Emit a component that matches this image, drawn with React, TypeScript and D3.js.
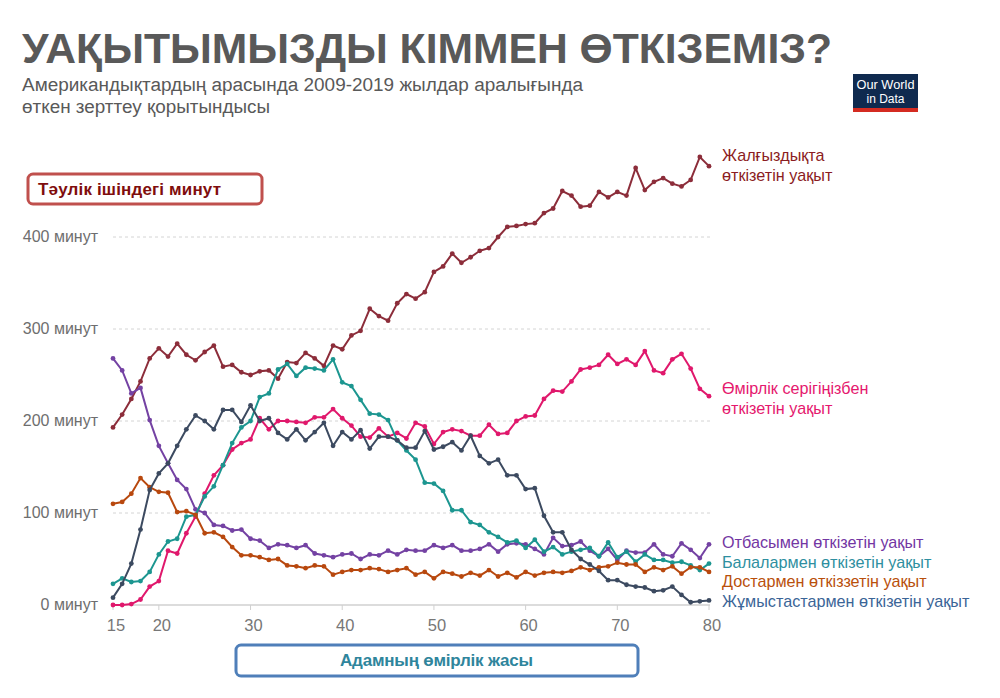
import React from "react";
import * as d3 from "d3";

const WIDTH = 1000;
const HEIGHT = 698;
const FONT = "'Liberation Sans', Arial, sans-serif";

// age in years, one point per year
const AGES = [
  15, 16, 17, 18, 19, 20, 21, 22, 23, 24, 25, 26, 27, 28, 29, 30, 31, 32, 33, 34, 35, 36,
  37, 38, 39, 40, 41, 42, 43, 44, 45, 46, 47, 48, 49, 50, 51, 52, 53, 54, 55, 56, 57, 58,
  59, 60, 61, 62, 63, 64, 65, 66, 67, 68, 69, 70, 71, 72, 73, 74, 75, 76, 77, 78, 79, 80,
];

// minutes per day
const ALONE = [
  193, 207, 224, 243, 268, 279, 270, 284, 272, 266, 275, 282, 259, 261, 253, 250, 254, 255, 246, 264, 263, 274,
  268, 260, 282, 278, 293, 298, 322, 314, 309, 328, 338, 333, 340, 362, 368, 382, 372, 378, 385, 388, 400, 411,
  412, 414, 415, 426, 431, 450, 445, 433, 434, 449, 443, 449, 445, 475, 451, 460, 464, 458, 455, 462, 487, 477,
];
const PARTNER = [
  0, 0, 1, 6, 20, 26, 59, 56, 78, 96, 121, 141, 152, 169, 176, 180, 203, 191, 200, 200, 199, 198,
  204, 204, 213, 203, 195, 183, 182, 192, 183, 187, 181, 198, 194, 175, 188, 191, 189, 184, 184, 196, 186, 187,
  200, 205, 206, 224, 233, 232, 243, 256, 258, 261, 272, 262, 267, 261, 276, 255, 252, 267, 273, 257, 235, 227,
];
const FAMILY = [
  268, 255, 230, 236, 201, 173, 154, 136, 126, 104, 100, 87, 86, 81, 82, 72, 70, 62, 66, 65, 62, 65,
  56, 54, 52, 55, 56, 50, 55, 54, 59, 55, 60, 59, 59, 65, 62, 65, 59, 59, 61, 66, 58, 66,
  67, 66, 61, 55, 73, 64, 65, 69, 59, 53, 61, 49, 59, 57, 57, 66, 55, 53, 67, 60, 51, 66,
];
const CHILDREN = [
  23, 29, 25, 26, 36, 55, 69, 72, 96, 98, 118, 129, 152, 176, 193, 200, 226, 230, 256, 262, 249, 258,
  257, 255, 267, 242, 238, 223, 208, 207, 201, 179, 168, 158, 133, 132, 124, 103, 103, 90, 87, 79, 74, 68,
  70, 62, 71, 58, 63, 55, 58, 60, 62, 53, 68, 52, 58, 47, 55, 49, 49, 46, 47, 43, 38, 45,
];
const FRIENDS = [
  110, 112, 121, 138, 128, 123, 122, 101, 102, 98, 78, 79, 74, 63, 54, 54, 52, 49, 50, 43, 42, 40,
  43, 42, 33, 36, 38, 38, 40, 39, 36, 38, 40, 33, 36, 29, 36, 34, 31, 35, 32, 38, 31, 35,
  30, 36, 32, 35, 36, 35, 37, 41, 38, 41, 42, 46, 44, 44, 36, 41, 38, 42, 34, 41, 41, 36,
];
const COWORKERS = [
  8, 23, 45, 82, 125, 143, 154, 173, 191, 206, 200, 191, 212, 212, 199, 217, 200, 203, 187, 180, 191, 179,
  188, 198, 173, 188, 180, 190, 170, 183, 183, 179, 171, 171, 189, 169, 172, 177, 168, 184, 162, 154, 158, 141,
  141, 126, 127, 97, 79, 79, 60, 50, 44, 37, 27, 27, 22, 20, 19, 15, 16, 20, 11, 3, 4, 5,
];

const Y_TICKS = [0, 100, 200, 300, 400];
const X_TICKS = [15, 20, 30, 40, 50, 60, 70, 80];

const SERIES = [
  { name: "alone", values: ALONE, color: "#8c2d3a", text: "#8b1c22", label: ["Жалғыздықта", "өткізетін уақыт"], labelY: 161 },
  { name: "partner", values: PARTNER, color: "#e0186c", text: "#e5186e", label: ["Өмірлік серігіңізбен", "өткізетін уақыт"], labelY: 394 },
  { name: "family", values: FAMILY, color: "#7442a3", text: "#7336a3", label: ["Отбасымен өткізетін уақыт"], labelY: 548 },
  { name: "children", values: CHILDREN, color: "#1c9690", text: "#2e8fa0", label: ["Балалармен өткізетін уақыт"], labelY: 568 },
  { name: "friends", values: FRIENDS, color: "#b8480e", text: "#b9500c", label: ["Достармен өткіззетін уақыт"], labelY: 587 },
  { name: "coworkers", values: COWORKERS, color: "#3c4a60", text: "#3b6597", label: ["Жұмыстастармен өткізетін уақыт"], labelY: 607 },
];

export default function App() {
  const x = d3.scaleLinear().domain([15, 80]).range([113, 709]);
  const y = d3.scaleLinear().domain([0, 400]).range([605, 237]);

  const line = d3
    .line<number>()
    .x((_, i) => x(AGES[i]))
    .y((d) => y(d));

  return (
    <svg
      width={WIDTH}
      height={HEIGHT}
      style={{ position: "absolute", left: 0, top: 0, background: "#fff" }}
      fontFamily={FONT}
    >
      {/* title */}
      <text x={22} y={63} fontSize={42} fontWeight="bold" fill="#595959" textLength={810} lengthAdjust="spacingAndGlyphs">
        УАҚЫТЫМЫЗДЫ КІММЕН ӨТКІЗЕМІЗ?
      </text>
      <text x={22} y={91} fontSize={18} fill="#595959" textLength={561} lengthAdjust="spacingAndGlyphs">
        Американдықтардың арасында 2009-2019 жылдар аралығында
      </text>
      <text x={22} y={113} fontSize={18} fill="#595959" textLength={248} lengthAdjust="spacingAndGlyphs">
        өткен зерттеу қорытындысы
      </text>

      {/* logo */}
      <g>
        <rect x={853} y={74} width={65} height={38} fill="#0f2a4f" />
        <rect x={853} y={108} width={65} height={4} fill="#d42b21" />
        <text x={885.5} y={89} fontSize={12} fill="#fff" textAnchor="middle" textLength={58} lengthAdjust="spacingAndGlyphs">
          Our World
        </text>
        <text x={885.5} y={103} fontSize={12} fill="#fff" textAnchor="middle">
          in Data
        </text>
      </g>

      {/* y unit box */}
      <rect x={28} y={174} width={234} height={30} rx={5} fill="#fff" stroke="#c0504d" strokeWidth={3} />
      <text x={38} y={195} fontSize={17} fontWeight="bold" fill="#7f0d0d" textLength={183} lengthAdjust="spacing">
        Тәулік ішіндегі минут
      </text>

      {/* grid */}
      {Y_TICKS.filter((t) => t > 0).map((t) => (
        <line key={t} x1={113} x2={710} y1={y(t)} y2={y(t)} stroke="#d4d4d4" strokeDasharray="3,3" />
      ))}
      {Y_TICKS.map((t) => (
        <text key={t} x={98} y={y(t) + 5} fontSize={16} fill="#6e6e6e" textAnchor="end">
          {t} минут
        </text>
      ))}

      {/* x axis */}
      <line x1={113} x2={710} y1={y(0)} y2={y(0)} stroke="#d0d0d0" strokeWidth={1.5} />
      {X_TICKS.map((t) => (
        <g key={t}>
          <line x1={x(t)} x2={x(t)} y1={y(0)} y2={y(0) + 5} stroke="#d0d0d0" />
          <text x={x(t) + 3} y={631} fontSize={16.5} fill="#777" textAnchor="middle">
            {t}
          </text>
        </g>
      ))}

      {/* series */}
      {SERIES.map((s) => (
        <g key={s.name}>
          <path d={line(s.values) || ""} fill="none" stroke={s.color} strokeWidth={2} />
          {s.values.map((v, i) => (
            <circle key={i} cx={x(AGES[i])} cy={y(v)} r={2.4} fill={s.color} />
          ))}
          {s.label.map((l, j) => (
            <text key={j} x={722} y={s.labelY + j * 20} fontSize={16.2} fill={s.text}>
              {l}
            </text>
          ))}
        </g>
      ))}

      {/* x unit box */}
      <rect x={236} y={645} width={402} height={31} rx={5} fill="#fff" stroke="#4f7fb9" strokeWidth={3} />
      <text x={340} y={666} fontSize={17} fontWeight="bold" fill="#2f859c" textLength={193} lengthAdjust="spacing">
        Адамның өмірлік жасы
      </text>
    </svg>
  );
}
